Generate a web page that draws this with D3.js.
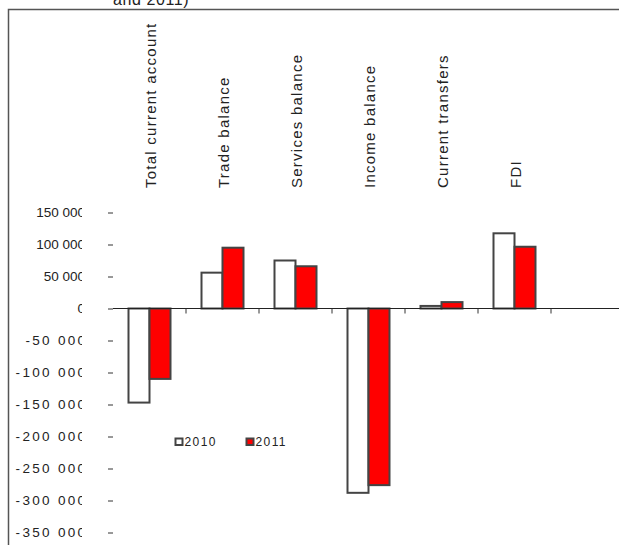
<!DOCTYPE html>
<html lang="en">
<head>
    <meta charset="UTF-8">
    <title>Current account components, 2010 and 2011</title>
    <script src="https://d3js.org/d3.v7.min.js"></script>
    <style>
        body {
            margin: 0;
            padding: 0;
            background: #fff;
        }
        svg {
            display: block;
            font-family: Arial, "Liberation Sans", sans-serif;
        }
    </style>
</head>
<body>
    <div id="chart"></div>
    <script>
        // Data
        const categories = ["Total current account", "Trade balance", "Services balance",
            "Income balance", "Current transfers", "FDI"];
        const years = ["2010", "2011"];
        const values2010 = [-147000, 56000, 75000, -288000, 4000, 117500];
        const values2011 = [-110000, 95000, 66000, -276000, 10000, 96500];
        const yTicks = [150000, 100000, 50000, 0, -50000, -100000, -150000, -200000, -250000, -300000, -350000];

        const width = 619, height = 545;
        const colors = { "2010": "#ffffff", "2011": "#ff0000" };

        const rows = categories.map((c, i) => ({
            cat: c,
            vals: [{ year: "2010", v: values2010[i] }, { year: "2011", v: values2011[i] }]
        }));

        const svg = d3.select("#chart")
            .append("svg")
            .attr("width", width)
            .attr("height", height);

        // cropped title (only the bottom of its second line shows)
        svg.append("text")
            .attr("x", 113)
            .attr("y", 5)
            .attr("font-size", 16)
            .attr("letter-spacing", "0.6px")
            .attr("fill", "#222")
            .text("and 2011)");

        // outer frame, runs off the right and bottom edges
        svg.append("rect")
            .attr("x", 8.5)
            .attr("y", 9.5)
            .attr("width", 700)
            .attr("height", 600)
            .attr("fill", "none")
            .attr("stroke", "#555")
            .attr("stroke-width", 1.5);

        // scales
        const x0 = d3.scaleBand()
            .domain(categories)
            .range([113, 113 + 73 * categories.length]);

        const x1 = d3.scaleBand()
            .domain(years)
            .range([15.5, 57.5]);

        const y = d3.scaleLinear()
            .domain([-350000, 150000])
            .range([532.5, 212.5]);

        // "150 000", "-50 000" ... (space as thousands sep, plain hyphen)
        const fmt = d => d3.format(",")(d).replace(/,/g, " ").replace("\u2212", "-");

        // y tick marks
        const yTickG = svg.append("g")
            .attr("transform", "translate(113,0)")
            .call(d3.axisLeft(y).tickValues(yTicks).tickSize(5).tickFormat(""));
        yTickG.select(".domain").remove();
        yTickG.selectAll(".tick line").attr("stroke", "#333");

        // y labels, last digit clipped like in the original
        svg.append("clipPath")
            .attr("id", "lblclip")
            .append("rect")
            .attr("x", -113).attr("y", 0)
            .attr("width", 82).attr("height", height);

        const yLblG = svg.append("g")
            .attr("transform", "translate(113,0)")
            .attr("clip-path", "url(#lblclip)")
            .call(d3.axisLeft(y).tickValues(yTicks).tickSize(0).tickPadding(28).tickFormat(fmt));
        yLblG.select(".domain").remove();
        yLblG.selectAll(".tick line").remove();
        yLblG.selectAll(".tick text")
            .attr("font-size", 13.5)
            .attr("fill", "#222")
            .attr("font-family", "Arial, 'Liberation Sans', sans-serif")
            // negative labels are drawn wider in the original
            .attr("letter-spacing", d => d < 0 ? "2.3px" : null)
            .attr("dx", d => d < 0 ? 2.3 : 0);

        // bars
        const groups = svg.append("g")
            .selectAll("g")
            .data(rows)
            .join("g")
            .attr("transform", d => `translate(${x0(d.cat)},0)`);

        groups.selectAll("rect")
            .data(d => d.vals)
            .join("rect")
            .attr("x", d => x1(d.year))
            .attr("width", x1.bandwidth())
            .attr("y", d => y(Math.max(0, d.v)))
            .attr("height", d => Math.abs(y(d.v) - y(0)))
            .attr("fill", d => colors[d.year])
            .attr("stroke", "#444")
            .attr("stroke-width", 2);

        // zero line with category ticks underneath
        svg.append("line")
            .attr("x1", 113).attr("x2", width)
            .attr("y1", y(0)).attr("y2", y(0))
            .attr("stroke", "#222")
            .attr("stroke-width", 1);

        svg.append("g")
            .selectAll("line")
            .data(categories)
            .join("line")
            .attr("x1", d => x0(d) + x0.bandwidth())
            .attr("x2", d => x0(d) + x0.bandwidth())
            .attr("y1", y(0)).attr("y2", y(0) + 5)
            .attr("stroke", "#333");

        // rotated category labels above the plot
        svg.append("g")
            .selectAll("text")
            .data(categories)
            .join("text")
            .attr("transform", d => `translate(${x0(d) + x0.bandwidth() / 2 + 6},188) rotate(-90)`)
            .attr("font-size", 15)
            .attr("letter-spacing", "1.25px")
            .attr("fill", "#222")
            .text(d => d);

        // legend
        const legend = svg.append("g")
            .selectAll("g")
            .data(years)
            .join("g")
            .attr("transform", (d, i) => `translate(${175.5 + i * 71},438.5)`);
        legend.append("rect")
            .attr("width", 7).attr("height", 6.5)
            .attr("fill", d => colors[d])
            .attr("stroke", "#444")
            .attr("stroke-width", 2);
        legend.append("text")
            .attr("x", 9)
            .attr("y", 7.5)
            .attr("font-size", 12)
            .attr("letter-spacing", "1.4px")
            .attr("fill", "#222")
            .text(d => d);
    </script>
</body>
</html>
